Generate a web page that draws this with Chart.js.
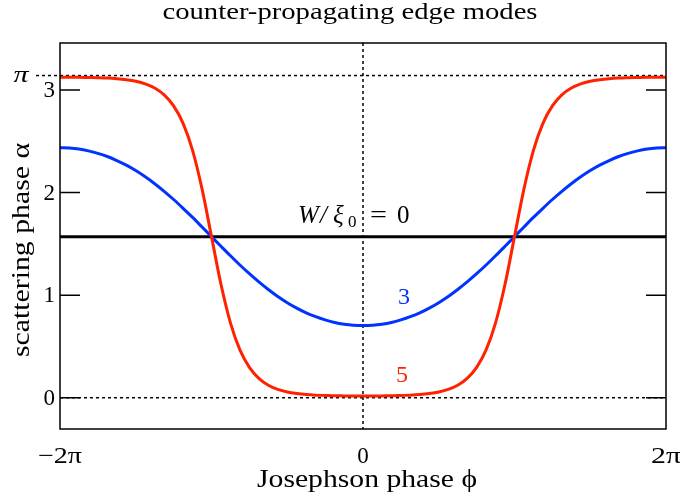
<!DOCTYPE html>
<html>
<head>
<meta charset="utf-8">
<script src="https://cdn.jsdelivr.net/npm/chart.js@4/dist/chart.umd.min.js"></script>
<style>
  html, body { margin: 0; padding: 0; background: #fff; }
  #wrap { width: 680px; height: 495px; }
</style>
</head>
<body>
<div id="wrap"><canvas id="chart" width="680" height="495"></canvas></div>
<script>
// phase phi in units of pi
const phase = [
  -2, -1.9375, -1.875, -1.8125, -1.75, -1.6875, -1.625, -1.5625, -1.5, -1.4375, -1.375,
  -1.3125, -1.25, -1.1875, -1.125, -1.0625, -1, -0.9375, -0.875, -0.8125, -0.75, -0.6875,
  -0.625, -0.5625, -0.5, -0.4375, -0.375, -0.3125, -0.25, -0.1875, -0.125, -0.0625, 0,
  0.0625, 0.125, 0.1875, 0.25, 0.3125, 0.375, 0.4375, 0.5, 0.5625, 0.625, 0.6875, 0.75,
  0.8125, 0.875, 0.9375, 1, 1.0625, 1.125, 1.1875, 1.25, 1.3125, 1.375, 1.4375, 1.5,
  1.5625, 1.625, 1.6875, 1.75, 1.8125, 1.875, 1.9375, 2
];

// W/xi0 = 3
const alphaW3 = [
  2.438, 2.435, 2.425, 2.407, 2.383, 2.352, 2.313, 2.268, 2.215, 2.154, 2.087,
  2.013, 1.933, 1.847, 1.758, 1.665, 1.571, 1.477, 1.384, 1.294, 1.209, 1.129,
  1.055, 0.987, 0.927, 0.874, 0.828, 0.790, 0.759, 0.734, 0.717, 0.707, 0.704,
  0.707, 0.717, 0.734, 0.759, 0.790, 0.828, 0.874, 0.927, 0.987, 1.055, 1.129, 1.209,
  1.294, 1.384, 1.477, 1.571, 1.665, 1.758, 1.847, 1.933, 2.013, 2.087, 2.154, 2.215,
  2.268, 2.313, 2.352, 2.383, 2.407, 2.425, 2.435, 2.438
];

// W/xi0 = 5
const alphaW5 = [
  3.125, 3.125, 3.124, 3.122, 3.120, 3.117, 3.111, 3.101, 3.086, 3.061, 3.020,
  2.953, 2.846, 2.676, 2.412, 2.036, 1.571, 1.106, 0.730, 0.466, 0.296, 0.189,
  0.122, 0.081, 0.056, 0.041, 0.031, 0.025, 0.022, 0.019, 0.018, 0.017, 0.017,
  0.017, 0.018, 0.019, 0.022, 0.025, 0.031, 0.041, 0.056, 0.081, 0.122, 0.189, 0.296,
  0.466, 0.730, 1.106, 1.571, 2.036, 2.412, 2.676, 2.846, 2.953, 3.020, 3.061, 3.086,
  3.101, 3.111, 3.117, 3.120, 3.122, 3.124, 3.125, 3.125
];

// W/xi0 = 0
const phaseW0 = [-2, 2];
const alphaW0 = [1.5708, 1.5708];

const yTicks = [0, 1, 2, 3];
const yTickLabels = ["0", "1", "2", "3"];
const xTicks = [-2, 0, 2];
const xTickLabels = ["\u22122\u03c0", "0", "2\u03c0"];
const piValue = 3.14159;

const SERIF = '"Liberation Serif", "DejaVu Serif", serif';

function pts(xs, ys) {
  return xs.map((x, i) => ({ x: x, y: ys[i] }));
}

// text at a given font size, stretched sideways to a given width
function wideText(ctx, text, x, y, size, width, style) {
  ctx.font = (style || "") + " " + size + "px " + SERIF;
  const w = ctx.measureText(text).width;
  const k = width ? width / w : 1;
  ctx.save();
  ctx.translate(x, y);
  ctx.scale(k, 1);
  ctx.fillText(text, 0, 0);
  ctx.restore();
}

function dotted(ctx, x1, y1, x2, y2) {
  ctx.save();
  ctx.strokeStyle = "#000";
  ctx.lineWidth = 1.5;
  ctx.setLineDash([3, 3]);
  ctx.beginPath();
  ctx.moveTo(x1, y1);
  ctx.lineTo(x2, y2);
  ctx.stroke();
  ctx.restore();
}

const decor = {
  id: "decor",
  beforeDatasetsDraw(chart) {
    const { ctx, chartArea: a, scales: { x, y } } = chart;
    dotted(ctx, a.left, y.getPixelForValue(0), a.right, y.getPixelForValue(0));
    dotted(ctx, 36, y.getPixelForValue(piValue), a.right, y.getPixelForValue(piValue));
    dotted(ctx, x.getPixelForValue(0), a.top, x.getPixelForValue(0), a.bottom);
  },
  afterDraw(chart) {
    const { ctx, chartArea: a, scales: { x, y } } = chart;
    ctx.save();
    // frame
    ctx.strokeStyle = "#000";
    ctx.lineWidth = 1.5;
    ctx.strokeRect(a.left, a.top, a.right - a.left, a.bottom - a.top);

    // y ticks (inside, both sides)
    ctx.fillStyle = "#000";
    yTicks.forEach((v, i) => {
      const py = y.getPixelForValue(v);
      ctx.beginPath();
      ctx.moveTo(a.left, py); ctx.lineTo(a.left + 20, py);
      ctx.moveTo(a.right - 20, py); ctx.lineTo(a.right, py);
      ctx.stroke();
      ctx.font = "23px " + SERIF;
      ctx.textAlign = "right";
      ctx.textBaseline = "middle";
      ctx.fillText(yTickLabels[i], a.left - 5, py + 1);
    });
    ctx.textAlign = "center";
    wideText(ctx, "\u03c0", 21, y.getPixelForValue(piValue), 24, 15, "italic");

    // x tick labels
    const xTickWidths = [44, 0, 30];
    xTicks.forEach((v, i) => {
      wideText(ctx, xTickLabels[i], x.getPixelForValue(v), 457, 23, xTickWidths[i]);
    });

    // axis titles
    wideText(ctx, "Josephson phase \u03d5", 367, 480, 25, 220);
    wideText(ctx, "counter-propagating edge modes", 350, 13, 24, 375);
    ctx.save();
    ctx.translate(22, 250);
    ctx.rotate(-Math.PI / 2);
    wideText(ctx, "scattering phase \u03b1", 0, 0, 25, 214);
    ctx.restore();

    // curve labels
    ctx.textAlign = "left";
    ctx.textBaseline = "alphabetic";
    const ty = 223;
    ctx.font = "italic 25px " + SERIF;
    ctx.fillText("W", 298, ty);
    ctx.fillText("/", 320, ty);
    ctx.fillText("\u03be", 333, ty);
    ctx.font = "17px " + SERIF;
    ctx.fillText("0", 348, ty + 4);
    wideText(ctx, "=", 370, ty, 25, 17);
    ctx.font = "25px " + SERIF;
    ctx.fillText("0", 397, ty);

    ctx.textAlign = "center";
    ctx.textBaseline = "middle";
    ctx.font = "24px " + SERIF;
    ctx.fillStyle = "#0033ff";
    ctx.fillText("3", 404, 298);
    ctx.fillStyle = "#ff2200";
    ctx.fillText("5", 402, 376);
    ctx.restore();
  }
};

new Chart(document.getElementById("chart"), {
  type: "line",
  data: {
    datasets: [
      { data: pts(phase, alphaW5), borderColor: "#ff2200", borderWidth: 3, order: 1 },
      { data: pts(phase, alphaW3), borderColor: "#0033ff", borderWidth: 3, order: 2 },
      { data: pts(phaseW0, alphaW0), borderColor: "#000", borderWidth: 3, order: 3 }
    ]
  },
  options: {
    responsive: false,
    animation: false,
    layout: { padding: { left: 60, right: 14, top: 43, bottom: 66 } },
    elements: {
      point: { radius: 0 },
      line: { cubicInterpolationMode: "monotone", borderCapStyle: "butt" }
    },
    plugins: { legend: { display: false }, tooltip: { enabled: false }, title: { display: false } },
    scales: {
      x: { type: "linear", min: -2, max: 2, display: false },
      y: { type: "linear", min: -0.305, max: 3.459, display: false }
    }
  },
  plugins: [decor]
});
</script>
</body>
</html>
